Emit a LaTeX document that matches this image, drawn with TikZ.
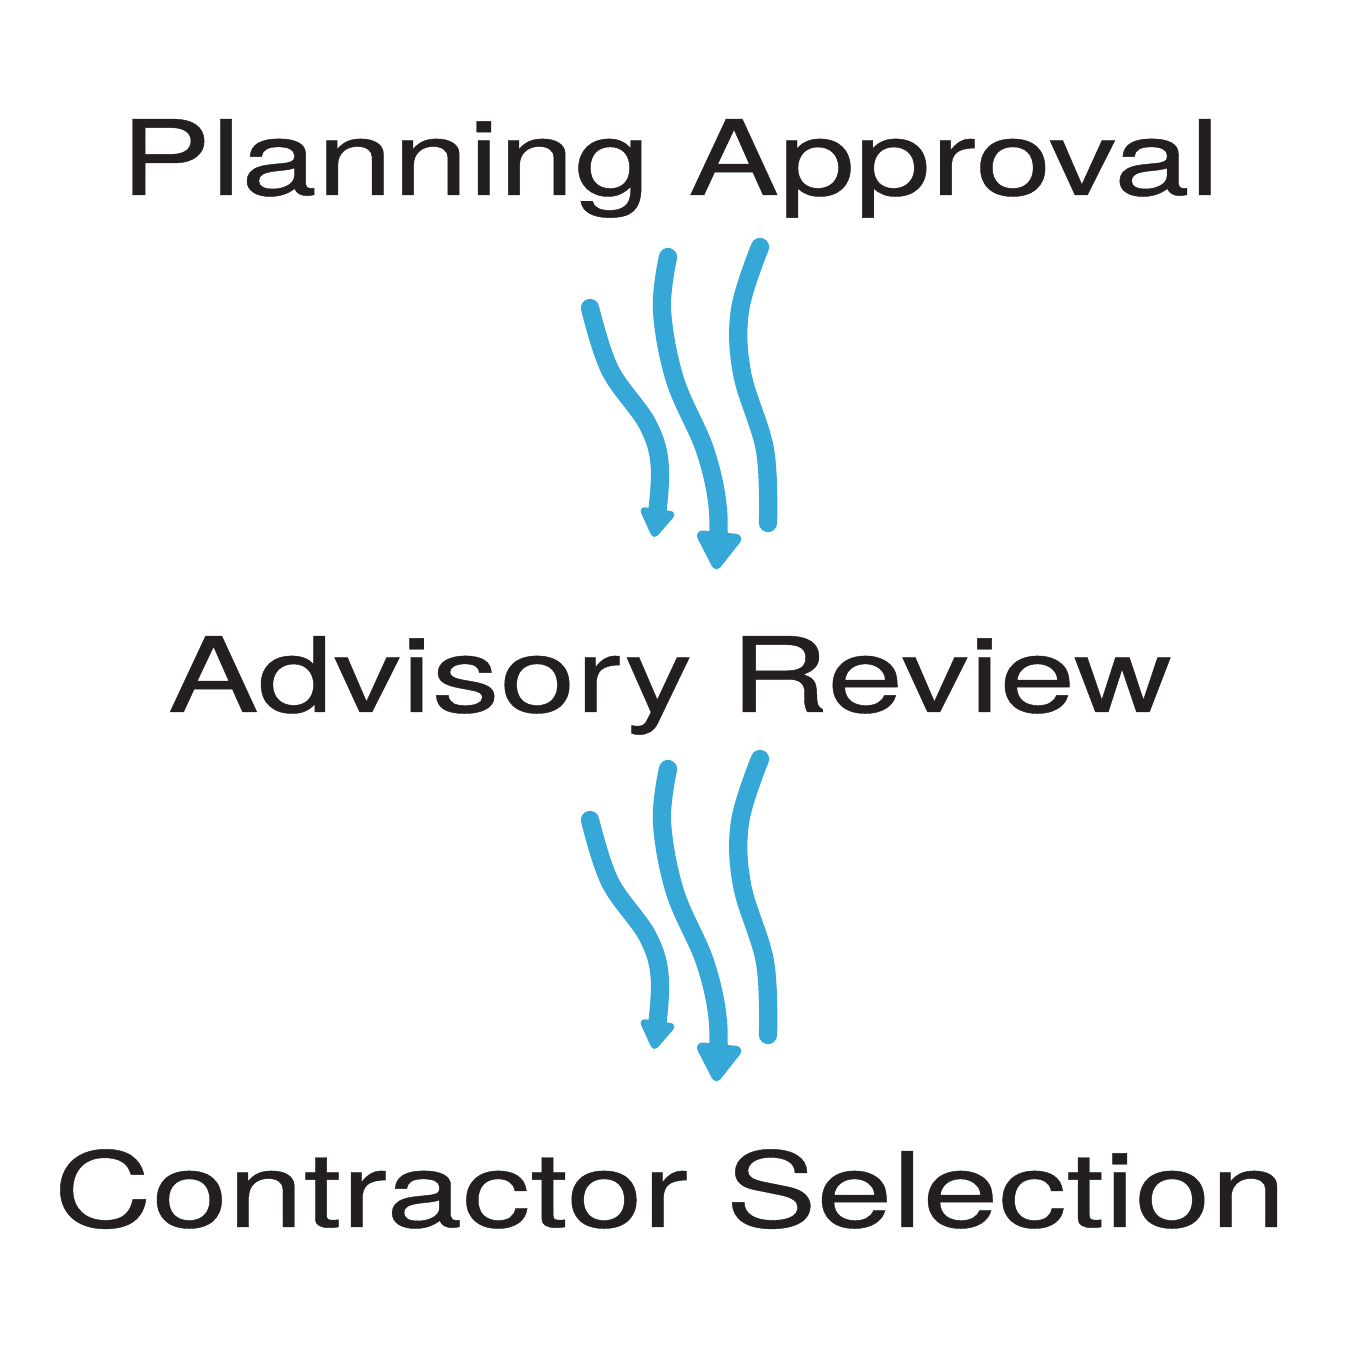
\documentclass[tikz,border=0pt]{standalone}
\usepackage{fontspec}
\setmainfont[FakeStretch=1.31, FakeBold=0.4]{TeX Gyre Heros}
\usepackage{tikz}
\usetikzlibrary{arrows.meta, positioning}
\usepackage{xcolor}
\definecolor{flowblue}{RGB}{54,168,216}
\definecolor{inkblack}{RGB}{35,31,32}
\tikzstyle{stage} = [anchor=base, inner sep=0pt, text=inkblack, font=\fontsize{29.6}{32}\selectfont]
\tikzstyle{wave} = [line width=5.2pt, flowblue, line cap=round, line join=round]

\begin{document}
\begin{tikzpicture}
    \useasboundingbox (0,0) rectangle (13.65,13.65);
    \node (plan) [stage] at (6.70,11.70) {Planning Approval};
    \node (advi) [stage] at (6.70,6.53) {Advisory Review};
    \node (cont) [stage] at (6.70,1.38) {Contractor Selection};

    \foreach \dy in {0,-5.12} {
        \begin{scope}[yshift=\dy cm]
            \draw [wave, -{Triangle[round, length=3.2mm, width=3.8mm]}] plot[smooth, tension=0.6] coordinates
                {(5.90,10.57) (6.10,9.95) (6.48,9.40) (6.60,8.95) (6.54,8.28)};
            \draw [wave, -{Triangle[round, length=4.2mm, width=5mm]}] plot[smooth, tension=0.6] coordinates
                {(6.68,11.08) (6.62,10.55) (6.75,9.85) (7.05,9.15) (7.18,8.55) (7.16,7.96)};
            \draw [wave] plot[smooth, tension=0.6] coordinates
                {(7.60,11.18) (7.40,10.55) (7.42,9.92) (7.65,9.15) (7.68,8.42)};
        \end{scope}
    }
\end{tikzpicture}
\end{document}
